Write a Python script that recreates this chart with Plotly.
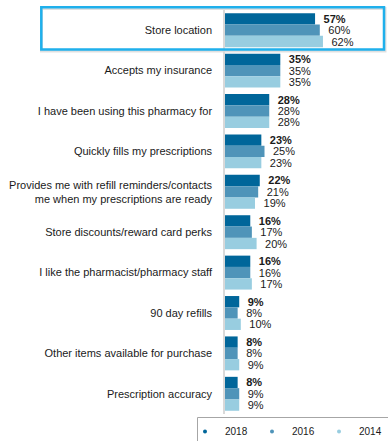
import plotly.graph_objects as go

# Reasons for choosing a pharmacy, share of respondents (%)
categories = [
    "Store location",
    "Accepts my insurance",
    "I have been using this pharmacy for",
    "Quickly fills my prescriptions",
    "Provides me with refill reminders/contacts<br>me when my prescriptions are ready",
    "Store discounts/reward card perks",
    "I like the pharmacist/pharmacy staff",
    "90 day refills",
    "Other items available for purchase",
    "Prescription accuracy",
]
years = ["2018", "2016", "2014"]
values_2018 = [57, 35, 28, 23, 22, 16, 16, 9, 8, 8]
values_2016 = [60, 35, 28, 25, 21, 17, 16, 8, 8, 9]
values_2014 = [62, 35, 28, 23, 19, 20, 17, 10, 9, 9]
series = [values_2018, values_2016, values_2014]
colors = ["#00669a", "#4f94b9", "#98cde0"]

FONT = "Liberation Sans, Arial, sans-serif"
TEXT = "#1a1a1a"

fig = go.Figure()

for i, (year, vals, col) in enumerate(zip(years, series, colors)):
    tmpl = "\u2002<b>%{x}%</b>" if i == 0 else "\u2002%{x}%"
    fig.add_trace(go.Bar(
        x=vals,
        y=categories,
        orientation="h",
        name=year,
        marker=dict(color=col, line=dict(width=0)),
        texttemplate=tmpl,
        textposition="outside",
        textfont=dict(family=FONT, size=11, color=TEXT),
        constraintext="none",
        cliponaxis=False,
        showlegend=False,
        hoverinfo="skip",
    ))

# small round legend markers
for year, col in zip(years, colors):
    fig.add_trace(go.Scatter(
        x=[None], y=[None], mode="markers", name=year,
        marker=dict(color=col, size=4, symbol="circle"),
        showlegend=True,
    ))

# highlight frame around the top reason (soft shadow + blue outline)
L, T = 225, 10
PW, PH = 163, 404

def px_x(v):
    return (v - L) / PW

def px_y(v):
    return (T + PH - v) / PH

fig.add_shape(type="rect", xref="paper", yref="paper",
              x0=px_x(41.5), x1=px_x(385), y0=px_y(51), y1=px_y(8.5),
              line=dict(color="rgba(0,0,0,0.12)", width=3), layer="below")
fig.add_shape(type="rect", xref="paper", yref="paper",
              x0=px_x(41.3), x1=px_x(384), y0=px_y(49.5), y1=px_y(7.3),
              line=dict(color="#1fb0ec", width=2.5))

# legend frame
fig.add_shape(type="rect", xref="paper", yref="paper",
              x0=px_x(197.5), x1=px_x(400), y0=px_y(460), y1=px_y(417.5),
              line=dict(color="#a6a6a6", width=1))

fig.update_layout(
    width=388, height=441,
    margin=dict(l=L, r=0, t=T, b=441 - T - PH, pad=0, autoexpand=False),
    paper_bgcolor="white", plot_bgcolor="white",
    barmode="group", bargap=0.16, bargroupgap=0,
    font=dict(family=FONT, size=11, color=TEXT),
    xaxis=dict(range=[0, PW / 1.58], showgrid=False, zeroline=False,
               showticklabels=False, showline=False, fixedrange=True),
    yaxis=dict(autorange="reversed", showgrid=False, zeroline=False,
               showline=True, linecolor="#d9d9d9", linewidth=1.5,
               ticks="outside", ticklen=9, tickcolor="rgba(0,0,0,0)",
               tickfont=dict(family=FONT, size=11, color=TEXT)),
    legend=dict(orientation="h", x=px_x(185), y=px_y(417),
                xanchor="left", yanchor="top",
                font=dict(family=FONT, size=10, color=TEXT),
                entrywidth=22, entrywidthmode="pixels",
                bgcolor="rgba(0,0,0,0)", borderwidth=0),
)

fig.write_html("out.html")
